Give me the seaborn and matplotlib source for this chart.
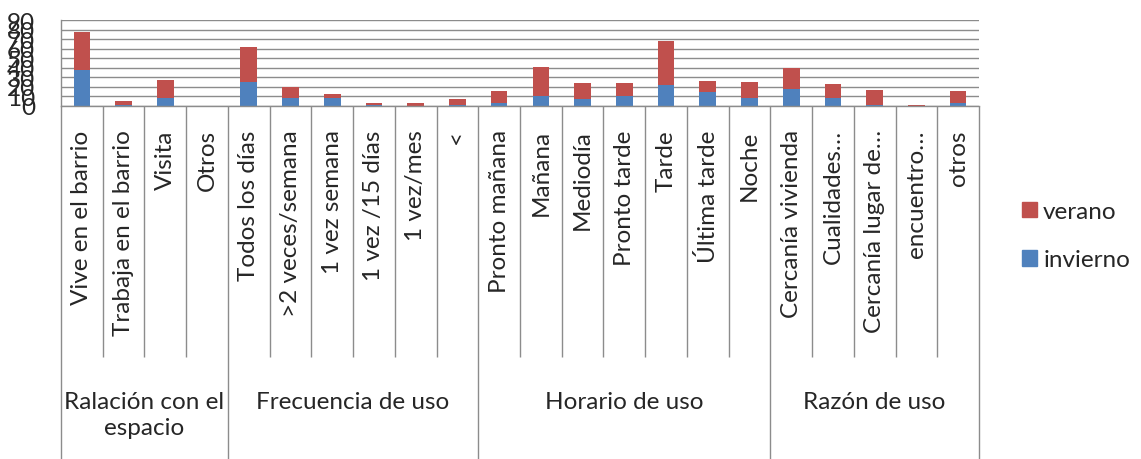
import matplotlib
matplotlib.use("Agg")
import matplotlib.pyplot as plt
from matplotlib.patches import Patch
import numpy as np
import pandas as pd
import seaborn as sns

# Survey categories, grouped by question
categorias = [
    "Vive en el barrio", "Trabaja en el barrio", "Visita", "Otros",
    "Todos los días", ">2 veces/semana", "1 vez semana", "1 vez /15 días", "1 vez/mes", "<",
    "Pronto mañana", "Mañana", "Mediodía", "Pronto tarde", "Tarde", "Última tarde", "Noche",
    "Cercanía vivienda", "Cualidades…", "Cercanía lugar de…", "encuentro…", "otros",
]
grupos = ["Ralación con el\nespacio", "Frecuencia de uso", "Horario de uso", "Razón de uso"]
tam_grupos = [4, 6, 7, 5]

invierno = [37, 1, 8, 0, 25, 8, 8, 1, 0, 1, 3, 10, 7, 10, 22, 14, 8, 18, 8, 1, 0, 3]
verano = [40, 4, 19, 0, 37, 12, 4, 2, 3, 6, 12, 31, 17, 14, 46, 12, 17, 22, 15, 16, 0.5, 12]

yticks = list(range(0, 91, 10))

ROJO = "#C0504D"
AZUL = "#4F81BD"
GRIS = "#8C8C8C"

df = pd.DataFrame({"categoria": categorias, "invierno": invierno, "verano": verano})
df["total"] = df["invierno"] + df["verano"]

sns.set_style("white")
plt.rcParams["font.family"] = ["Lato", "DejaVu Sans"]
FS = 17.5

W, H = 1141, 460
fig = plt.figure(figsize=(W / 100, H / 100), dpi=100)
y0, y90 = 106.7, 21.0
ax = fig.add_axes([61 / W, 1 - y0 / H, (979 - 61) / W, (y0 - y90) / H])

# stacked bars: full height in red, winter share in blue over it
sns.barplot(data=df, x="categoria", y="total", order=categorias, color=ROJO,
            width=0.4, saturation=1, linewidth=0, ax=ax)
sns.barplot(data=df, x="categoria", y="invierno", order=categorias, color=AZUL,
            width=0.4, saturation=1, linewidth=0, ax=ax)

n = len(categorias)
ax.set_xlim(-0.5, n - 0.5)
ax.set_ylim(0, 90)
ax.set_yticks(yticks)
ax.set_yticklabels([str(v) for v in yticks], fontsize=FS)
ax.yaxis.grid(True, color=GRIS, linewidth=1.0)
ax.set_axisbelow(True)
ax.set_xlabel("")
ax.set_ylabel("")

ax.set_xticks(range(n))
ax.set_xticklabels(categorias, rotation=90, fontsize=FS)
ax.tick_params(axis="x", length=0, pad=17)
ax.tick_params(axis="y", length=5.8, width=1.0, color=GRIS, pad=13, direction="out")

for s in ["top", "right"]:
    ax.spines[s].set_visible(False)
for s in ["left", "bottom"]:
    ax.spines[s].set_color(GRIS)
    ax.spines[s].set_linewidth(1.0)

# table-like category axis below the plot
tr = ax.get_xaxis_transform()
def frac(ypx):
    return (y0 - ypx) / (y0 - y90)

limites = np.cumsum([0] + tam_grupos) - 0.5
for b in range(n + 1):
    xb = b - 0.5
    fondo = 460 if xb in limites else 358
    ax.plot([xb, xb], [0, frac(fondo)], transform=tr, color=GRIS,
            linewidth=1.0, clip_on=False, solid_capstyle="butt")

for g, etiqueta in enumerate(grupos):
    xc = (limites[g] + limites[g + 1]) / 2
    ax.text(xc, frac(392), etiqueta, transform=tr, ha="center", va="top",
            multialignment="center", fontsize=FS, linespacing=1.3)

fig.legend(handles=[Patch(color=ROJO, label="verano"), Patch(color=AZUL, label="invierno")],
           loc="upper left", bbox_to_anchor=(1022 / W, 1 - 202 / H), frameon=False,
           fontsize=FS, handlelength=0.62, handleheight=0.62, handletextpad=0.25,
           labelspacing=1.12, borderpad=0, borderaxespad=0)

fig.savefig("out.png", dpi=100)
